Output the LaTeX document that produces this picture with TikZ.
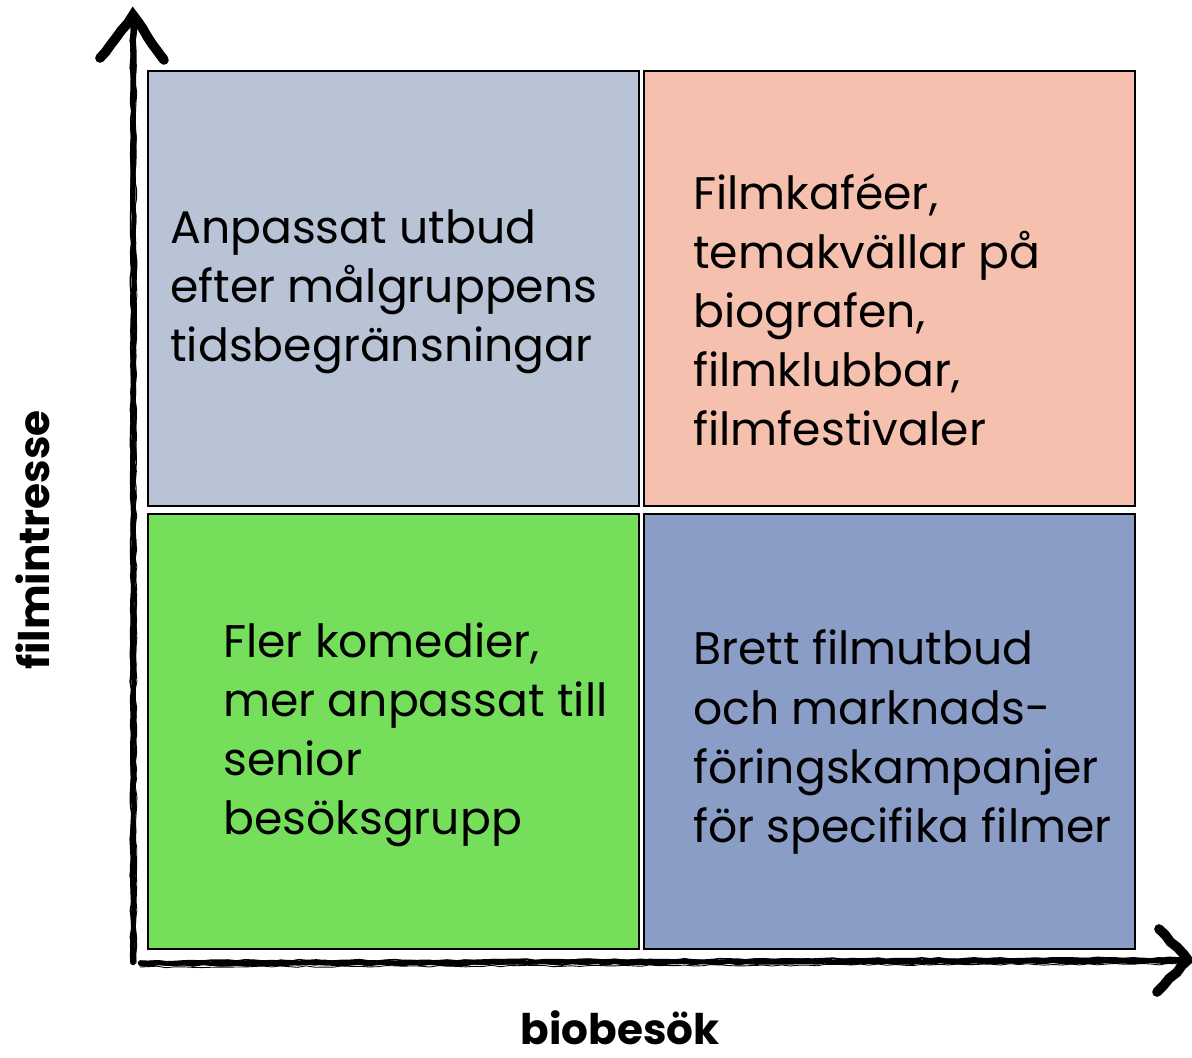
\documentclass[tikz,border=0pt]{standalone}
\usepackage{fontspec}
\setmainfont{Poppins}
\usepackage{tikz}
\usetikzlibrary{decorations.pathmorphing}

\definecolor{hiInterestLow}{HTML}{B8C4D6}
\definecolor{hiInterestHi}{HTML}{F5C0AD}
\definecolor{loInterestLow}{HTML}{75DE5B}
\definecolor{loInterestHi}{HTML}{8A9DC7}

\begin{document}
\begin{tikzpicture}[x=0.02cm,y=-0.02cm,
    quad/.style={draw=black, line width=1.2pt, anchor=north west,
        minimum width=9.82cm, minimum height=8.7cm, inner sep=0pt},
    quadtext/.style={anchor=west, align=left, inner sep=0pt,
        font=\fontsize{26}{33.6}\selectfont},
    axislabel/.style={font=\fontsize{24}{30}\selectfont\bfseries},
    brush/.style={line cap=round, decorate,
        decoration={random steps, segment length=5pt, amplitude=0.5pt}}]

\useasboundingbox (0,0) rectangle (1192,1057);

\coordinate (origin) at (133,963);
\coordinate (ytip)   at (133,15);
\coordinate (xtip)   at (1188,960);

% quadrants
\node [quad, fill=hiInterestLow] (tl) at (147,70)  {};
\node [quad, fill=hiInterestHi]  (tr) at (643,70)  {};
\node [quad, fill=loInterestLow] (bl) at (147,513) {};
\node [quad, fill=loInterestHi]  (br) at (643,513) {};

\node [quadtext] (tltext) at (170,292) {Anpassat utbud\\efter målgruppens\\tidsbegränsningar};
\node [quadtext] (trtext) at (693,310) {Filmkaféer,\\temakvällar på\\biografen,\\filmklubbar,\\filmfestivaler};
\node [quadtext] (bltext) at (223,735) {Fler komedier,\\mer anpassat till\\senior\\besöksgrupp};
\node [quadtext] (brtext) at (693,742) {Brett filmutbud\\och marknads-\\föringskampanjer\\för specifika filmer};

% sketchy axes
\foreach \dx/\w in {0/2.6pt, 2/1.4pt, -2/0.9pt, 3/0.5pt}
    \draw [brush, line width=\w] ([xshift=\dx*0.02cm]origin) -- ([xshift=\dx*0.02cm, yshift=-8*0.02cm]ytip);
\foreach \dy/\w in {0/2.6pt, 2/1.4pt, -2/0.9pt, 4/0.5pt}
    \draw [brush, line width=\w] ([xshift=7*0.02cm, yshift=-\dy*0.02cm]origin) -- ([xshift=-8*0.02cm, yshift=-\dy*0.02cm]xtip);

% arrow heads
\foreach \s/\w in {0/5.5pt, 2/2pt, -2/1.5pt}
    \draw [brush, line width=\w, line join=miter]
        ([xshift=\s*0.02cm]ytip) ++(-33,43) -- ++(33,-43) -- ++(31,45);
\foreach \s/\w in {0/5.5pt, 2/2pt, -2/1.5pt}
    \draw [brush, line width=\w, line join=miter]
        ([yshift=\s*0.02cm]xtip) ++(-29,-31) -- ++(29,31) -- ++(-31,32);

% axis labels
\node [axislabel, rotate=90] (ylabel) at (33,540) {filmintresse};
\node [axislabel] (xlabel) at (620,1028) {biobesök};

\end{tikzpicture}
\end{document}
